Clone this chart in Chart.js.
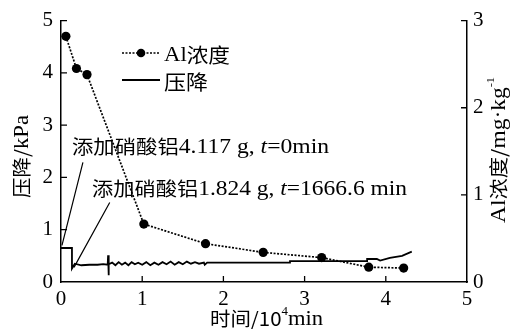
<!DOCTYPE html>
<html>
<head>
<meta charset="utf-8">
<script src="https://cdn.jsdelivr.net/npm/chart.js@4"></script>
<style>
  html, body { margin: 0; padding: 0; background: #fff; }
  #wrap { width: 521px; height: 329px; }
</style>
</head>
<body>
<div id="wrap"><canvas id="chart" width="521" height="329"></canvas></div>
<script>
// Al concentration (right axis, mg/kg) vs time (10^4 min)
const alTime = [0.06, 0.19, 0.32, 1.02, 1.78, 2.49, 3.21, 3.79, 4.22];
const alConc = [2.82, 2.45, 2.38, 0.665, 0.44, 0.34, 0.28, 0.17, 0.16];

// pressure drop (left axis, kPa) vs time (10^4 min)
const pressTime = [0, 0.135, 0.135, 0.17, 0.25, 0.35, 0.45, 0.52, 0.575, 0.58, 0.585, 0.59,
  0.63, 0.67, 0.71, 0.75, 0.79, 0.83, 0.87, 0.91, 0.95, 1.0, 1.05, 1.1, 1.15, 1.2, 1.25,
  1.3, 1.35, 1.4, 1.45, 1.5, 1.55, 1.6, 1.65, 1.7, 1.76, 1.77, 1.8, 2.0, 2.4, 2.82, 2.82,
  3.2, 3.77, 3.77, 3.89, 3.93, 4.05, 4.2, 4.32];
const pressDrop = [0.65, 0.65, 0.26, 0.35, 0.32, 0.33, 0.33, 0.34, 0.33, 0.51, 0.13, 0.34,
  0.37, 0.32, 0.38, 0.33, 0.37, 0.32, 0.38, 0.34, 0.37, 0.33, 0.38, 0.32, 0.37, 0.33, 0.38,
  0.34, 0.39, 0.33, 0.38, 0.34, 0.39, 0.35, 0.38, 0.35, 0.37, 0.33, 0.37, 0.37, 0.37, 0.37, 0.40,
  0.40, 0.40, 0.44, 0.44, 0.41, 0.46, 0.50, 0.58];

const xTicks = [0, 1, 2, 3, 4, 5];
const leftTicks = [0, 1, 2, 3, 4, 5];
const rightTicks = [0, 1, 2, 3];

const serif = "'Liberation Serif', 'Noto Sans CJK SC', serif";
const cjk = "'Noto Sans CJK SC', 'Liberation Serif', serif";

const alPoints = alTime.map((t, i) => ({ x: t, y: alConc[i] }));
const pressPoints = pressTime.map((t, i) => ({ x: t, y: pressDrop[i] }));

function runsWidth(ctx, runs) {
  let w = 0;
  runs.forEach(r => { ctx.font = r[1]; w += ctx.measureText(r[0]).width; });
  return w;
}
// draws runs [text, font, dy] starting at x, stretched to the given width
function drawFit(ctx, runs, x, y, width) {
  const w = runsWidth(ctx, runs);
  const k = width / w;
  ctx.save();
  ctx.translate(x, y);
  ctx.scale(k, 1);
  let cx = 0;
  runs.forEach(r => {
    ctx.font = r[1];
    ctx.fillText(r[0], cx, r[2] || 0);
    cx += ctx.measureText(r[0]).width;
  });
  ctx.restore();
}

const extras = {
  id: 'extras',
  afterDraw(chart) {
    const ctx = chart.ctx;
    const xs = chart.scales.x, yl = chart.scales.y, yr = chart.scales.y2;
    const area = chart.chartArea;
    ctx.save();
    ctx.strokeStyle = '#000';
    ctx.fillStyle = '#000';
    ctx.lineWidth = 1.3;
    // inward ticks
    ctx.beginPath();
    xTicks.slice(1, -1).forEach(v => {
      const px = xs.getPixelForValue(v);
      ctx.moveTo(px, area.bottom); ctx.lineTo(px, area.bottom - 6);
    });
    leftTicks.slice(1).forEach(v => {
      const py = yl.getPixelForValue(v);
      ctx.moveTo(area.left, py); ctx.lineTo(area.left + 6, py);
    });
    rightTicks.slice(1).forEach(v => {
      const py = yr.getPixelForValue(v);
      ctx.moveTo(area.right, py); ctx.lineTo(area.right - 6, py);
    });
    ctx.stroke();

    // legend
    ctx.lineWidth = 1.7;
    ctx.setLineDash([2, 1.5]);
    ctx.beginPath(); ctx.moveTo(122, 53); ctx.lineTo(160, 53); ctx.stroke();
    ctx.setLineDash([]);
    ctx.beginPath(); ctx.arc(141, 53, 4.3, 0, Math.PI * 2); ctx.fill();
    ctx.lineWidth = 1.8;
    ctx.beginPath(); ctx.moveTo(122, 80); ctx.lineTo(160, 80); ctx.stroke();
    ctx.textBaseline = 'middle';
    ctx.textAlign = 'left';
    drawFit(ctx, [['Al', '21px ' + serif], ['浓度', '20px ' + cjk]], 164, 55, 66);
    drawFit(ctx, [['压降', '20px ' + cjk]], 164, 82, 44);

    // annotations
    ctx.lineWidth = 1.2;
    ctx.beginPath();
    ctx.moveTo(xs.getPixelForValue(0.012), yl.getPixelForValue(0.70));
    ctx.lineTo(xs.getPixelForValue(0.27), yl.getPixelForValue(2.29));
    ctx.moveTo(xs.getPixelForValue(0.16), yl.getPixelForValue(0.28));
    ctx.lineTo(xs.getPixelForValue(0.6), yl.getPixelForValue(1.52));
    ctx.stroke();
    drawFit(ctx, [['添加硝酸铝', '19px ' + cjk], ['4.117 g, ', '21px ' + serif],
      ['t', 'italic 21px ' + serif], ['=0min', '21px ' + serif]], 72, 147, 257);
    drawFit(ctx, [['添加硝酸铝', '19px ' + cjk], ['1.824 g, ', '21px ' + serif],
      ['t', 'italic 21px ' + serif], ['=1666.6 min', '21px ' + serif]], 92, 189, 315);

    // axis titles
    drawFit(ctx, [['时间/10', '19px ' + cjk], ['4', '12px ' + serif, -7], ['min', '21px ' + serif]], 210, 319, 113);

    ctx.save();
    ctx.translate(22, 198);
    ctx.rotate(-Math.PI / 2);
    drawFit(ctx, [['压降/', '19px ' + cjk], ['kPa', '21px ' + serif]], 0, 0, 83);
    ctx.restore();

    ctx.save();
    ctx.translate(499, 223);
    ctx.rotate(-Math.PI / 2);
    drawFit(ctx, [['Al', '21px ' + serif], ['浓度/', '19px ' + cjk], ['mg·kg', '21px ' + serif], ['-1', '11px ' + serif, -8]], 0, 0, 146);
    ctx.restore();
    ctx.restore();
  }
};

new Chart(document.getElementById('chart'), {
  type: 'line',
  data: {
    datasets: [
      {
        label: 'Al浓度',
        data: alPoints,
        yAxisID: 'y2',
        borderColor: '#000',
        backgroundColor: '#000',
        borderWidth: 1.7,
        borderDash: [2, 1.5],
        pointRadius: 4.6,
        pointBackgroundColor: '#000',
        pointBorderWidth: 0,
        tension: 0
      },
      {
        label: '压降',
        data: pressPoints,
        yAxisID: 'y',
        borderColor: '#000',
        borderWidth: 1.8,
        pointRadius: 0,
        tension: 0
      }
    ]
  },
  options: {
    responsive: false,
    animation: false,
    events: [],
    layout: { padding: { top: 16, left: 0, right: 0, bottom: 0 } },
    plugins: { legend: { display: false }, tooltip: { enabled: false } },
    scales: {
      x: {
        type: 'linear', min: 0, max: 5,
        grid: { display: false, drawTicks: false },
        border: { display: true, color: '#000', width: 1.5 },
        afterBuildTicks: s => { s.ticks = xTicks.map(v => ({ value: v })); },
        afterFit: s => { s.height = 47; },
        ticks: { color: '#000', padding: 5, font: { family: serif, size: 21 } }
      },
      y: {
        position: 'left', min: 0, max: 5,
        grid: { display: false, drawTicks: false },
        border: { display: true, color: '#000', width: 1.5 },
        afterBuildTicks: s => { s.ticks = leftTicks.map(v => ({ value: v })); },
        afterFit: s => { s.width = 61; },
        ticks: { color: '#000', padding: 8, font: { family: serif, size: 21 } }
      },
      y2: {
        position: 'right', min: 0, max: 3,
        grid: { display: false, drawTicks: false },
        border: { display: true, color: '#000', width: 1.5 },
        afterBuildTicks: s => { s.ticks = rightTicks.map(v => ({ value: v })); },
        afterFit: s => { s.width = 54; },
        ticks: { color: '#000', padding: 6, font: { family: serif, size: 21 } }
      }
    }
  },
  plugins: [extras]
});
</script>
</body>
</html>
